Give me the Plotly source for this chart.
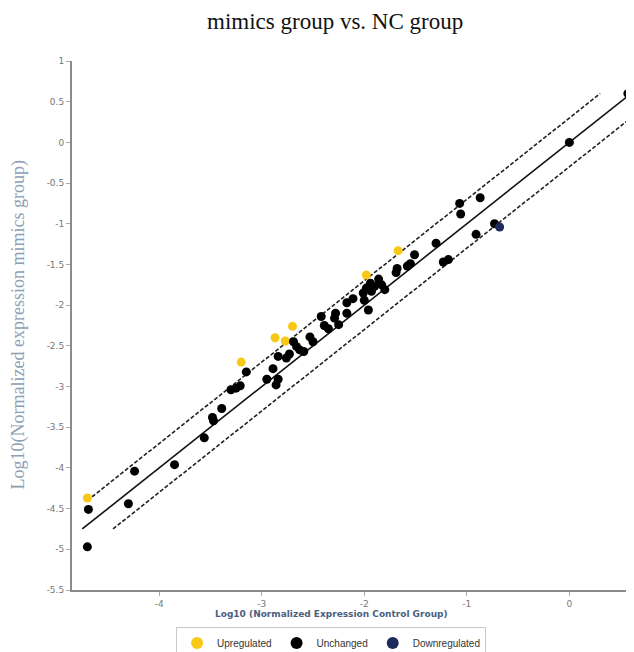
import plotly.graph_objects as go

# ---- data ----
up_x = [-4.70, -3.20, -2.87, -2.77, -2.70, -1.98, -1.67]
up_y = [-4.37, -2.70, -2.40, -2.44, -2.26, -1.63, -1.33]

down_x = [-0.68]
down_y = [-1.04]

unch_x = [-4.69, -4.70, -4.30, -4.24, -3.85, -3.56, -3.48, -3.47, -3.39,
          -3.30, -3.25, -3.21, -3.15, -2.95, -2.89, -2.84, -2.86, -2.84,
          -2.76, -2.73, -2.69, -2.66, -2.63, -2.59, -2.53, -2.50, -2.42,
          -2.39, -2.35, -2.28, -2.29, -2.25, -2.17, -2.17, -2.11, -2.01,
          -2.00, -1.98, -1.96, -1.94, -1.93, -1.90, -1.86, -1.83, -1.80,
          -1.69, -1.68, -1.58, -1.55, -1.51, -1.30, -1.23, -1.18, -1.07,
          -1.06, -0.91, -0.87, -0.73, 0.00, 0.57]
unch_y = [-4.51, -4.97, -4.44, -4.04, -3.96, -3.63, -3.38, -3.42, -3.27,
          -3.04, -3.02, -2.99, -2.82, -2.91, -2.78, -2.91, -2.98, -2.63,
          -2.65, -2.60, -2.45, -2.51, -2.55, -2.57, -2.39, -2.45, -2.14,
          -2.25, -2.29, -2.10, -2.16, -2.24, -2.10, -1.97, -1.92, -1.85,
          -1.94, -1.79, -2.06, -1.73, -1.83, -1.77, -1.68, -1.75, -1.81,
          -1.60, -1.55, -1.52, -1.49, -1.38, -1.24, -1.47, -1.44, -0.75,
          -0.88, -1.13, -0.68, -1.00, 0.00, 0.60]

# reference lines: y = x and y = x +/- log10(2)
fold = 0.3
center_x = [-4.75, 0.60]
upper_x = [-4.70, 0.30]
lower_x = [-4.45, 0.60]

x_ticks = [-4, -3, -2, -1, 0]
y_ticks = [1, 0.5, 0, -0.5, -1, -1.5, -2, -2.5, -3, -3.5, -4, -4.5, -5, -5.5]

YELLOW = "#f8c816"
NAVY = "#1d2b5c"

fig = go.Figure()

fig.add_trace(go.Scatter(x=center_x, y=center_x, mode="lines",
                         line=dict(color="#111", width=1.6), showlegend=False,
                         hoverinfo="skip"))
fig.add_trace(go.Scatter(x=upper_x, y=[v + fold for v in upper_x], mode="lines",
                         line=dict(color="#222", width=1.6, dash="4px,2px"),
                         showlegend=False, hoverinfo="skip"))
fig.add_trace(go.Scatter(x=lower_x, y=[v - fold for v in lower_x], mode="lines",
                         line=dict(color="#222", width=1.6, dash="4px,2px"),
                         showlegend=False, hoverinfo="skip"))

fig.add_trace(go.Scatter(x=up_x, y=up_y, mode="markers", name="Upregulated",
                         marker=dict(color=YELLOW, size=9), cliponaxis=False))
fig.add_trace(go.Scatter(x=unch_x, y=unch_y, mode="markers", name="Unchanged",
                         marker=dict(color="#000", size=9), cliponaxis=False))
fig.add_trace(go.Scatter(x=down_x, y=down_y, mode="markers", name="Downregulated",
                         marker=dict(color=NAVY, size=9), cliponaxis=False))

fmt = lambda v: (("%g" % v).replace("\u2212", "-"))

# page body has an 8px margin, so the figure is drawn 8px in from the corner
fig.update_layout(
    width=626, height=644,
    margin=dict(l=64, r=0, t=53, b=62, autoexpand=False),
    paper_bgcolor="white", plot_bgcolor="white",
    font=dict(family="DejaVu Sans", size=9, color="#777"),
    xaxis=dict(range=[-4.85, 0.63], tickvals=x_ticks,
               ticktext=[fmt(v) for v in x_ticks],
               showgrid=False, zeroline=False, showline=True,
               linecolor="#8a8a8a", linewidth=2, ticks="outside",
               ticklen=4, tickcolor="#aaa",
               tickfont=dict(size=9, color="#777")),
    yaxis=dict(range=[-5.5, 1], tickvals=y_ticks,
               ticktext=[fmt(v) for v in y_ticks],
               showgrid=False, zeroline=False, showline=True,
               linecolor="#8a8a8a", linewidth=2, ticks="outside",
               ticklen=4, tickcolor="#aaa",
               tickfont=dict(size=9, color="#777")),
    showlegend=True,
    legend=dict(orientation="h", x=0.461, xanchor="center",
                y=-0.1, yanchor="middle",
                bordercolor="#c8c8c8", borderwidth=1,
                font=dict(family="Liberation Sans", size=10, color="#333"),
                itemsizing="constant", itemwidth=30,
                tracegroupgap=0),
)

fig.add_annotation(text="mimics group vs. NC group", xref="paper", yref="paper",
                   x=0.468, y=1.074, showarrow=False, xanchor="center",
                   yanchor="middle",
                   font=dict(family="Liberation Serif", size=23, color="#111"))
fig.add_annotation(text="Log10(Normalized expression mimics group)",
                   xref="paper", yref="paper", x=-0.096, y=0.5,
                   textangle=-90, showarrow=False, xanchor="center",
                   yanchor="middle",
                   font=dict(family="Liberation Serif", size=18, color="#8e9eb3"))
fig.add_annotation(text="<b>Log10 (Normalized Expression Control Group)</b>",
                   xref="paper", yref="paper", x=0.461, y=-0.045,
                   showarrow=False, xanchor="center", yanchor="middle",
                   font=dict(family="DejaVu Sans", size=9, color="#4b5e80"))

fig.write_html("out.html")
